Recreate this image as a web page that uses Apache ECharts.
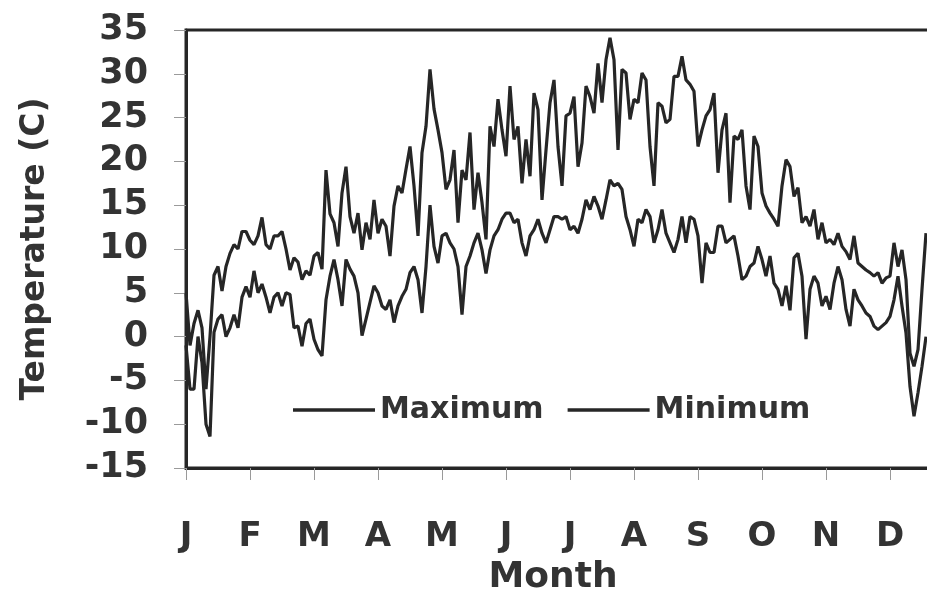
<!DOCTYPE html>
<html>
<head>
<meta charset="utf-8">
<script src="https://cdn.jsdelivr.net/npm/echarts@6/dist/echarts.min.js"></script>
<style>
html,body{margin:0;padding:0;background:#ffffff;}
#c{width:927px;height:603px;}
</style>
</head>
<body>
<div id="c"></div>
<script>
// Month tick labels (ticks at the start of each month)
const months = ['J','F','M','A','M','J','J','A','S','O','N','D'];
const samplesPerMonth = 16;
const maxTemp = [
  5, -1, 1.5, 3, 1, -6, 0, 7, 8, 5.2,
  8, 9.5, 10.5, 10, 12, 12, 11, 10.5, 11.5, 13.6,
  10.5, 10, 11.5, 11.5, 12, 10, 7.6, 9, 8.5, 6.5,
  7.5, 7, 9.2, 9.6, 7.7, 19, 14, 13, 10.3, 16.4,
  19.4, 13.7, 11.8, 14.1, 9.9, 13, 11.1, 15.6, 11.8, 13.4,
  12.6, 9.2, 14.9, 17.2, 16.4, 19.1, 21.7, 17.2, 11.5, 21,
  24, 30.5, 26, 23.6, 21, 16.8, 17.9, 21.3, 13, 19,
  17.9, 23.3, 14.5, 18.7, 15.3, 11.1, 24, 21.7, 27.1, 23.6,
  20.6, 28.6, 22.5, 24, 17.5, 22.5, 18.3, 27.8, 25.9, 15.6,
  21.3, 26.7, 29.3, 21.7, 17.2, 25.2, 25.5, 27.4, 19.4, 22.1,
  28.6, 27.4, 25.5, 31.2, 26.7, 31.6, 34.1, 31.6, 21.3, 30.5,
  30.1, 24.8, 27.1, 26.7, 30.1, 29.3, 21.7, 17.2, 26.7, 26.3,
  24.4, 24.8, 29.7, 29.7, 32, 29.3, 28.8, 28, 21.7, 23.6,
  25.2, 25.9, 27.8, 18.7, 23.6, 25.5, 15.3, 22.9, 22.5, 23.6,
  17.2, 14.5, 22.9, 21.7, 16.4, 14.9, 14.1, 13.4, 12.6, 17.2,
  20.2, 19.4, 16, 17, 13, 13.7, 12.6, 14.5, 11.1, 13,
  10.7, 11.1, 10.5, 11.8, 10.3, 9.7, 8.8, 11.5, 8.4, 8,
  7.6, 7.3, 6.9, 7.3, 6.1, 6.7, 6.9, 10.7, 8, 9.9,
  6.5, -1.9, -3.4, -1.5, 5.4, 11.8
];
const minTemp = [
  -1, -6, -6, 0, -3, -10, -11.4, 0.5, 2, 2.5,
  0, 1, 2.5, 1, 4.5, 5.7, 4.5, 7.5, 5, 6,
  4.5, 2.7, 4.5, 5, 3.5, 5, 4.8, 1, 1.2, -1.1,
  1.5, 2, -0.3, -1.5, -2.2, 4.2, 6.9, 8.8, 6.5, 3.5,
  8.8, 7.7, 6.9, 5, 0.1, 2, 3.9, 5.8, 5, 3.5,
  3.1, 4.2, 1.6, 3.5, 4.6, 5.4, 7.3, 8, 6.5, 2.7,
  8, 15, 10.3, 8.4, 11.5, 11.8, 10.7, 10, 8, 2.5,
  8, 9.2, 10.7, 11.8, 9.9, 7.2, 9.9, 11.5, 12.2, 13.4,
  14.1, 14.1, 13, 13.4, 10.7, 9.2, 11.5, 12.2, 13.4, 11.8,
  10.7, 12.2, 13.7, 13.7, 13.4, 13.7, 12.2, 12.6, 11.8, 13.4,
  15.6, 14.5, 16, 14.9, 13.4, 15.6, 17.9, 17.2, 17.5, 16.8,
  13.7, 12.2, 10.3, 13.4, 13, 14.5, 13.7, 10.7, 12.2, 14.5,
  11.8, 10.7, 9.6, 11.1, 13.7, 10.7, 13.7, 13.4, 11.5, 6.1,
  10.7, 9.6, 9.6, 12.6, 12.6, 10.7, 11.1, 11.5, 9.2, 6.5,
  6.9, 8, 8.4, 10.3, 8.8, 6.9, 9.2, 6.1, 5.4, 3.5,
  5.8, 3, 9, 9.5, 6.9, -0.3, 5.4, 6.9, 6.1, 3.5,
  4.6, 3.1, 6.1, 8, 6.5, 3.1, 1.2, 5.4, 4.2, 3.5,
  2.7, 2.3, 1.2, 0.8, 1.2, 1.6, 2.3, 4.2, 6.9, 3.5,
  0.4, -5.7, -9.1, -6.4, -3.4, 0
];
const seriesNames = ['Maximum', 'Minimum'];
const yMin = -15, yMax = 35, yStep = 5;

const toPoints = arr => arr.map((v, i) => [i / samplesPerMonth, v]);

const FONT = 'DejaVu Sans';
const TXT = '#333333';
const LINE = '#262626';

const chart = echarts.init(document.getElementById('c'), null, {renderer: 'canvas'});
chart.setOption({
  animation: false,
  backgroundColor: '#ffffff',
  grid: {
    left: 186, top: 30, width: 768, height: 438,
    containLabel: false, outerBoundsMode: 'none',
    show: true, borderColor: LINE, borderWidth: 3, backgroundColor: 'transparent'
  },
  legend: {
    left: 288, top: 390,
    itemWidth: 82, itemHeight: 14, itemGap: 24,
    data: seriesNames.map(n => ({name: n, icon: 'path://M0,0 L100,0 L100,4 L0,4 Z'})),
    textStyle: {fontFamily: FONT, fontSize: 30, fontWeight: 'bold', color: TXT}
  },
  xAxis: {
    type: 'value', min: 0, max: months.length, interval: 1,
    axisLine: {show: true, onZero: false, lineStyle: {color: LINE, width: 3}},
    axisTick: {show: true, length: 12, lineStyle: {color: '#9a9a9a', width: 1}},
    splitLine: {show: false},
    axisLabel: {
      formatter: v => months[v] || '',
      fontFamily: FONT, fontSize: 34, fontWeight: 'bold', color: TXT, margin: 52
    }
  },
  yAxis: {
    type: 'value', min: yMin, max: yMax, interval: yStep,
    axisLine: {show: true, lineStyle: {color: LINE, width: 3}},
    axisTick: {show: true, length: 12, lineStyle: {color: '#9a9a9a', width: 1}},
    splitLine: {show: false},
    axisLabel: {fontFamily: FONT, fontSize: 35, fontWeight: 'bold', color: TXT, margin: 38},
    name: 'Temperature (C)', nameLocation: 'middle', nameRotate: 90, nameGap: 134,
    nameTextStyle: {fontFamily: FONT, fontSize: 33, fontWeight: 'bold', color: TXT}
  },
  graphic: [{
    type: 'text', x: 553, y: 578,
    style: {text: 'Month', align: 'center', verticalAlign: 'middle', fill: TXT,
      font: 'bold 36px "DejaVu Sans"'}
  }],
  series: [
    {name: seriesNames[0], type: 'line', data: toPoints(maxTemp), symbol: 'none', showSymbol: false,
     lineStyle: {color: LINE, width: 3.2}, itemStyle: {color: LINE}},
    {name: seriesNames[1], type: 'line', data: toPoints(minTemp), symbol: 'none', showSymbol: false,
     lineStyle: {color: LINE, width: 3.2}, itemStyle: {color: LINE}}
  ]
});
</script>
</body>
</html>
